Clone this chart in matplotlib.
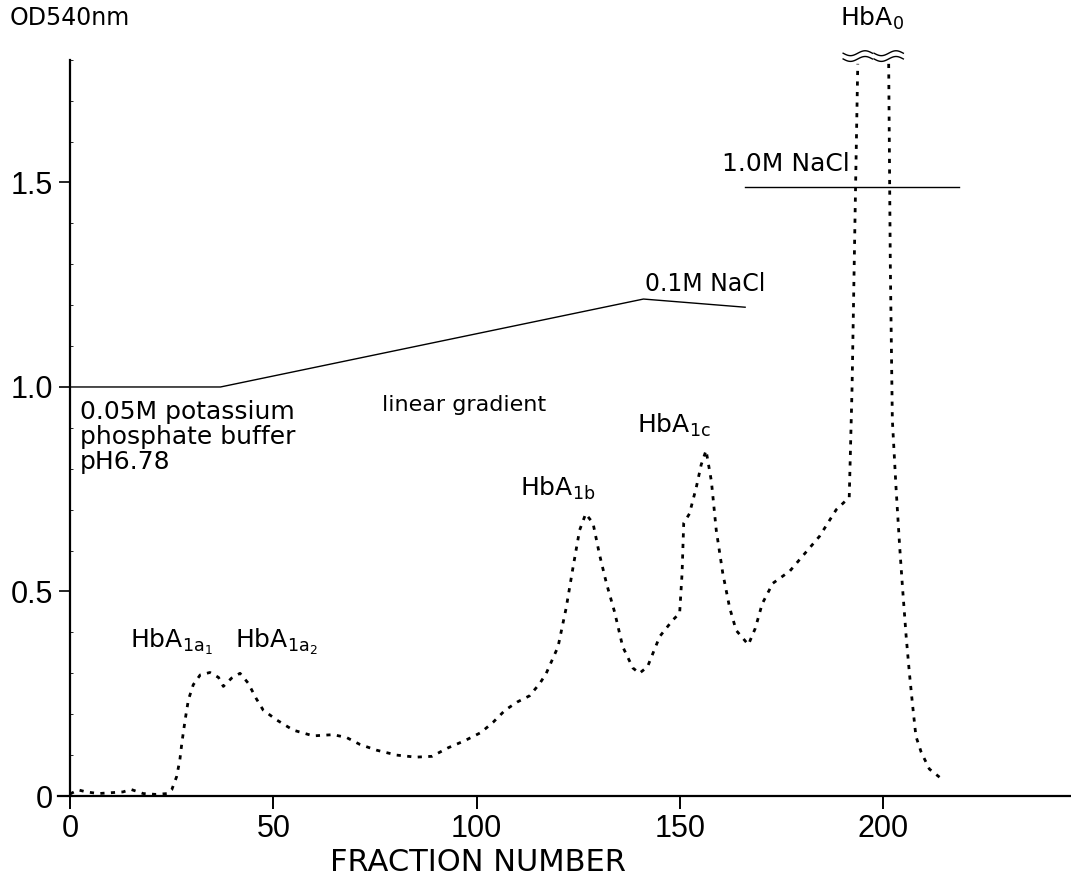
import numpy as np
import matplotlib
matplotlib.use('Agg')
import matplotlib.pyplot as plt
from matplotlib.ticker import MultipleLocator

plt.rcParams['font.family'] = ['DejaVu Sans']
plt.rcParams['mathtext.fontset'] = 'dejavusans'

# --- chromatogram (OD540nm vs fraction number) ---
fraction = [0, 2, 4, 7, 10, 13, 15, 18, 21, 24, 25, 26.2, 27, 27.5, 28.3, 29.1,
            30.3, 32, 34.4, 36.5, 37.7, 39.7, 41.8, 43.8, 45.8, 47.5, 50.8, 54.9,
            59.8, 64.7, 68, 71.3, 75.4, 80.3, 85, 89, 93, 97, 101, 104, 107, 110,
            113, 115.5, 117.1, 120, 122, 123.7, 125.3, 126.8, 128.6, 130.2, 131.9,
            133.9, 135.9, 138.4, 140, 142, 145, 148.2, 149.9, 150.5, 150.9, 152.3,
            154, 155.2, 156.4, 157.7, 158.9, 160.5, 162.2, 163.8, 166.8, 168.5,
            170.2, 172.8, 177, 180, 184.3, 188.4, 191.6, 192.3, 193, 193.7,
            np.nan,
            201.3, 201.7, 202.2, 203.1, 204, 204.7, 205.6, 206.4, 207.2, 208,
            209.3, 211.3, 213.8]
od540 = [0.005, 0.015, 0.01, 0.006, 0.008, 0.01, 0.016, 0.006, 0.004, 0.006,
         0.015, 0.047, 0.088, 0.13, 0.186, 0.235, 0.272, 0.296, 0.302, 0.29,
         0.268, 0.288, 0.3, 0.276, 0.238, 0.21, 0.186, 0.161, 0.147, 0.15, 0.143,
         0.126, 0.112, 0.10, 0.095, 0.097, 0.118, 0.135, 0.155, 0.18, 0.21, 0.23,
         0.245, 0.275, 0.30, 0.365, 0.46, 0.56, 0.65, 0.69, 0.667, 0.59, 0.52,
         0.45, 0.365, 0.313, 0.30, 0.316, 0.39, 0.43, 0.447, 0.545, 0.667, 0.69,
         0.755, 0.81, 0.845, 0.77, 0.65, 0.545, 0.46, 0.405, 0.37, 0.41, 0.47,
         0.52, 0.55, 0.585, 0.635, 0.70, 0.73, 1.0, 1.4, 1.79,
         np.nan,
         1.79, 1.3, 0.92, 0.755, 0.61, 0.51, 0.39, 0.30, 0.22, 0.146, 0.107,
         0.066, 0.046]

# elution program lines
gradient_x = [0, 37, 141, 166]
gradient_y = [1.0, 1.0, 1.215, 1.195]
nacl_x = [166, 218.5]
nacl_y = [1.49, 1.49]

# x positions where HbA0 goes off scale
break_x = [193.7, 201.3]

x_ticks = [0, 50, 100, 150, 200]
y_ticks = [0, 0.5, 1.0, 1.5]
y_tick_labels = ['0', '0.5', '1.0', '1.5']

fig = plt.figure(figsize=(10.71, 8.88), dpi=100)
ax = fig.add_axes([0.054, 0.1036, 0.9455, 0.8291])

ax.plot(fraction, od540, color='black', linewidth=2.0,
        linestyle=(0, (1.5, 2.3)))
ax.plot(gradient_x, gradient_y, color='black', linewidth=1.0)
ax.plot(nacl_x, nacl_y, color='black', linewidth=1.0)

# break marks on top of the HbA0 peak
for bx in break_x:
    wx = np.linspace(bx - 3.6, bx + 3.6, 30)
    wave = 0.006 * np.sin((wx - bx) / 3.6 * np.pi)
    for off in (1.802, 1.816):
        ax.plot(wx, off + wave, color='black', linewidth=1.0, clip_on=False)

ax.set_xlim(-3, 246)
ax.set_ylim(0, 1.8)
ax.spines['top'].set_visible(False)
ax.spines['right'].set_visible(False)
ax.spines['left'].set_position(('data', 0))
ax.spines['left'].set_linewidth(1.6)
ax.spines['bottom'].set_linewidth(1.6)

ax.set_xticks(x_ticks)
ax.set_yticks(y_ticks)
ax.set_yticklabels(y_tick_labels)
ax.yaxis.set_minor_locator(MultipleLocator(0.1))
ax.tick_params(axis='x', direction='out', length=9, width=1.4, pad=4,
               labelsize=22)
ax.tick_params(axis='y', which='major', direction='out', length=8, width=1.2,
               pad=4, labelsize=22)
ax.tick_params(axis='y', which='minor', direction='in', length=2.5, width=0.6)
for lab in ax.get_xticklabels() + ax.get_yticklabels():
    lab.set_family(['Liberation Sans', 'DejaVu Sans'])

# annotations
ax.text(2.5, 0.968, '0.05M potassium\nphosphate buffer\npH6.78', fontsize=18,
        ha='left', va='top', linespacing=1.05)
ax.text(97, 0.956, 'linear gradient', fontsize=16, ha='center', va='center')
ax.text(141.4, 1.252, '0.1M NaCl', fontsize=17, ha='left', va='center')
ax.text(160.3, 1.545, '1.0M NaCl', fontsize=18, ha='left', va='center')
ax.text(189.3, 1.90, r'HbA$_{\mathrm{0}}$', fontsize=18, ha='left',
        va='center', clip_on=False)
ax.text(139.4, 0.907, r'HbA$_{\mathrm{1c}}$', fontsize=18, ha='left', va='center')
ax.text(110.6, 0.753, r'HbA$_{\mathrm{1b}}$', fontsize=18, ha='left', va='center')
ax.text(14.7, 0.377, r'HbA$_{\mathrm{1a_1}}$', fontsize=18, ha='left', va='center')
ax.text(40.6, 0.377, r'HbA$_{\mathrm{1a_2}}$', fontsize=18, ha='left', va='center')

fig.text(10 / 1071, 1 - 18 / 888, 'OD540nm', fontsize=17, ha='left', va='center')
fig.text(478 / 1071, 1 - 862 / 888, 'FRACTION NUMBER', fontsize=22,
         ha='center', va='center')

fig.savefig('out.png', dpi=100)
